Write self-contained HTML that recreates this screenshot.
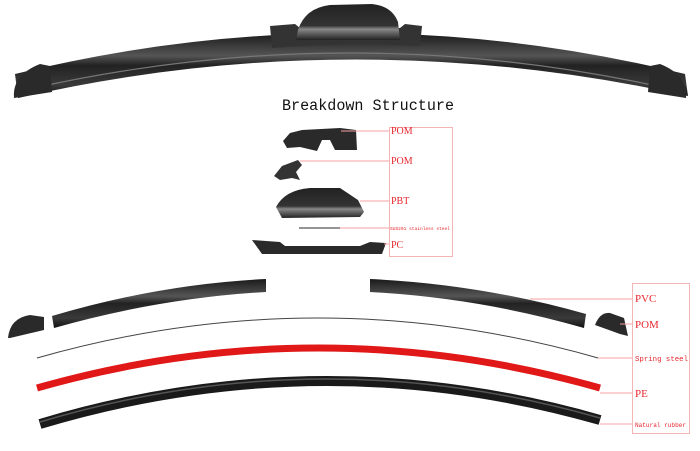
<!DOCTYPE html>
<html><head><meta charset="utf-8"><style>
html,body{margin:0;padding:0;background:#fff;width:700px;height:451px;overflow:hidden}
svg{display:block}
.l{font-family:"Liberation Serif",serif;fill:#e8262d}
.m{font-family:"Liberation Mono",monospace;fill:#e8262d}
</style></head><body>
<svg width="700" height="451" viewBox="0 0 700 451" xmlns="http://www.w3.org/2000/svg">
<defs>
<linearGradient id="bk" x1="0" y1="0" x2="0" y2="1">
<stop offset="0" stop-color="#1a1a1a"/><stop offset="0.35" stop-color="#555"/><stop offset="0.5" stop-color="#222"/><stop offset="0.8" stop-color="#3a3a3a"/><stop offset="1" stop-color="#111"/>
</linearGradient>
<linearGradient id="dm" x1="0" y1="0" x2="0" y2="1">
<stop offset="0" stop-color="#222"/><stop offset="0.6" stop-color="#333"/><stop offset="0.7" stop-color="#888"/><stop offset="1" stop-color="#222"/>
</linearGradient>
</defs>
<!-- top blade -->
<path d="M15,74 Q350,-8 685,74 L688,96 Q350,22 18,98 Z" fill="url(#bk)"/>
<path d="M25,90 Q350,16 675,90" stroke="#777" stroke-width="1.2" fill="none"/>
<path d="M14,98 Q12,75 40,64 L50,66 L52,92 Z" fill="#2a2a2a"/>
<path d="M686,98 Q688,75 660,64 L650,66 L648,92 Z" fill="#2a2a2a"/>
<path d="M270,26 L295,24 L300,28 L400,28 L405,24 L422,26 L420,46 Q350,42 272,48 Z" fill="#333"/>
<path d="M298,30 Q305,8 330,5 L372,4 Q392,6 398,22 L400,40 L296,40 Z" fill="url(#dm)"/>
<text x="368" y="110" text-anchor="middle" font-family="Liberation Mono,monospace" font-size="15.5" fill="#111" textLength="172" lengthAdjust="spacingAndGlyphs">Breakdown Structure</text>
<!-- exploded connector parts -->
<rect x="389.5" y="127.5" width="63" height="129" fill="none" stroke="#f5b5b5"/>
<path d="M283,141 L290,133 L302,130 L340,128 L356,130 L357,150 L335,150 L330,140 L322,140 L317,151 L300,147 L287,148 Z" fill="#2a2a2a"/>
<line x1="341" y1="131" x2="389" y2="131" stroke="#f5a0a0"/>
<path d="M274,176 L282,166 L298,160 L302,165 L296,172 L300,180 L292,178 L280,180 Z" fill="#333"/>
<line x1="300" y1="161" x2="389" y2="161" stroke="#f5a0a0"/>
<path d="M276,207 Q285,190 310,188 L340,188 L358,200 L364,212 L360,217 L282,218 Z" fill="url(#dm)"/>
<line x1="360" y1="201" x2="389" y2="201" stroke="#f5a0a0"/>
<line x1="299" y1="228" x2="340" y2="228" stroke="#555" stroke-width="1.2"/>
<line x1="340" y1="228" x2="389" y2="228" stroke="#f5a0a0"/>
<path d="M252,240 L280,242 L285,246 L360,246 L370,242 L386,243 L382,254 L262,254 Z" fill="#2a2a2a"/>
<line x1="384" y1="244" x2="389" y2="244" stroke="#f5a0a0"/>
<text x="391" y="134" class="l" font-size="10">POM</text>
<text x="391" y="164" class="l" font-size="10">POM</text>
<text x="391" y="204" class="l" font-size="10">PBT</text>
<text x="390" y="230" class="m" font-size="4.6" textLength="60" lengthAdjust="spacingAndGlyphs">SUS201 stainless steel</text>
<text x="391" y="248" class="l" font-size="10">PC</text>
<!-- bottom parts -->
<rect x="632.5" y="283.5" width="57" height="150" fill="none" stroke="#f5b5b5"/>
<path d="M52,316 Q160,284 266,279 L266,292 Q160,298 54,328 Z" fill="url(#bk)"/>
<path d="M370,279 Q480,284 586,314 L584,328 Q480,298 370,292 Z" fill="url(#bk)"/>
<path d="M8,338 Q10,318 30,315 L44,317 L44,330 L10,338 Z" fill="#2a2a2a"/>
<path d="M595,325 Q600,312 610,313 L624,318 L628,336 L620,334 Z" fill="#2a2a2a"/>
<path d="M37,358 Q318,278 598,358" stroke="#444" stroke-width="1" fill="none"/>
<path d="M37,388 Q318,308 600,388" stroke="#e01818" stroke-width="7" fill="none"/>
<path d="M40,424 Q320,340 600,420" stroke="#1a1a1a" stroke-width="10" fill="none"/>
<path d="M40,422 Q320,338 600,418" stroke="#555" stroke-width="1.5" fill="none"/>
<line x1="530" y1="299" x2="632" y2="299" stroke="#f5a0a0"/>
<line x1="620" y1="324" x2="632" y2="324" stroke="#f5a0a0"/>
<line x1="598" y1="358" x2="632" y2="358" stroke="#f5a0a0"/>
<line x1="600" y1="393" x2="632" y2="393" stroke="#f5a0a0"/>
<line x1="600" y1="424" x2="632" y2="424" stroke="#f5a0a0"/>
<text x="635" y="302" class="l" font-size="11">PVC</text>
<text x="635" y="328" class="l" font-size="11">POM</text>
<text x="635" y="361" class="m" font-size="7.5" textLength="53" lengthAdjust="spacingAndGlyphs">Spring steel</text>
<text x="635" y="397" class="l" font-size="11">PE</text>
<text x="635" y="427" class="m" font-size="6.5" textLength="51" lengthAdjust="spacingAndGlyphs">Natural rubber</text>
</svg>
</body></html>
